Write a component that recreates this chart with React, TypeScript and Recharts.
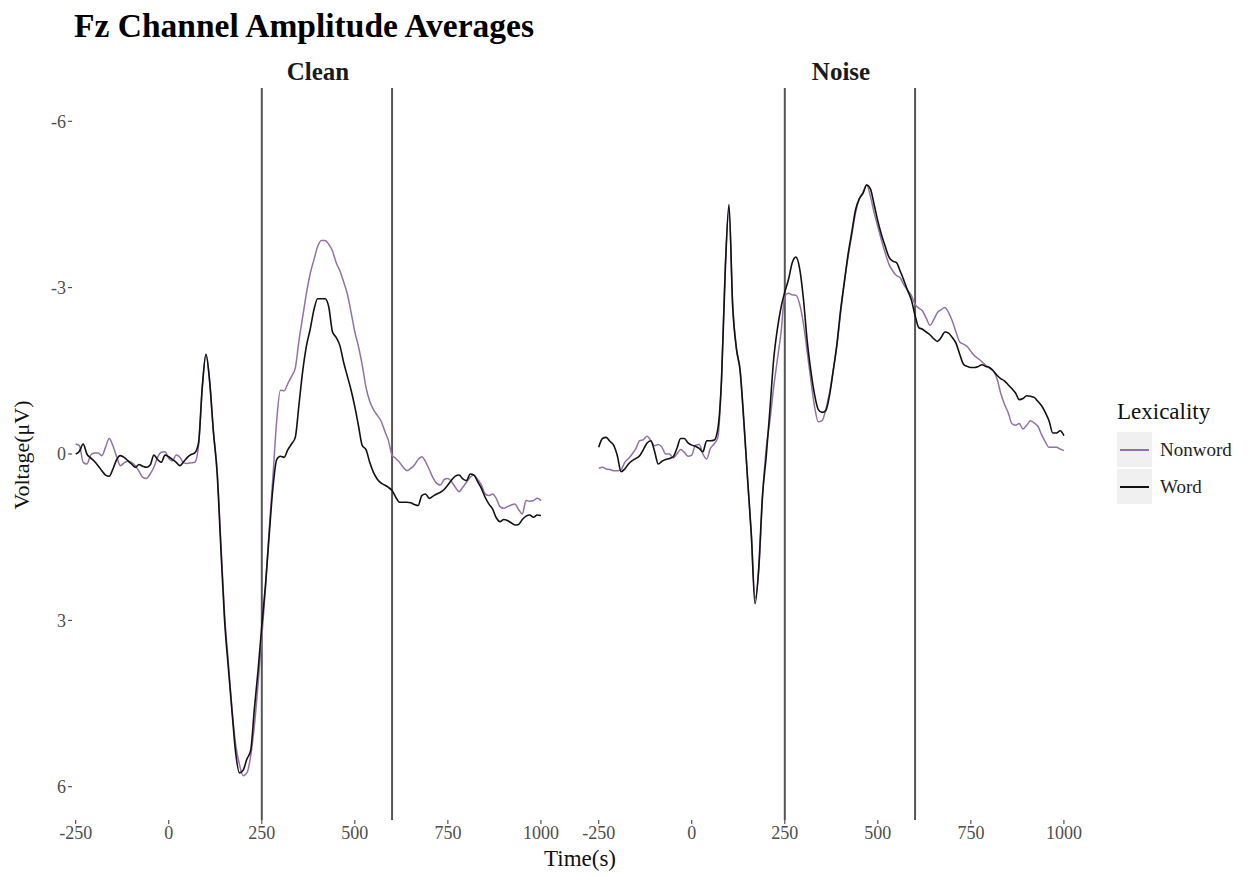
import React from 'react';
import { LineChart, Line, XAxis, YAxis, ReferenceLine } from 'recharts';

// sampling grid (ms), one sample every 10 ms
const times = Array.from({ length: 126 }, (_, i) => -250 + i * 10);

const xTicks = [-250, 0, 250, 500, 750, 1000];
const yTicks = [-6, -3, 0, 3, 6];
const windowLines = [250, 600];

const cleanNonword = [
    -0.18, -0.15, 0.15, 0.18, 0.02, -0.02, -0.02, 0.03, -0.12, -0.28,
    -0.15, 0.05, 0.21, 0.16, 0.13, 0.15, 0.21, 0.31, 0.42, 0.44,
    0.36, 0.24, 0.06, -0.03, -0.04,
    0.08, 0.12, 0.02, 0.06, 0.16, 0.17, 0.16, 0.15, -0.15, -1.2,
    -1.8, -1.3, -0.4, 0.3, 1.6, 2.9, 3.75, 4.6, 5.25, 5.6,
    5.8, 5.75, 5.45, 4.9, 4.15, 3.3, 2.4, 1.35, 0.4, -0.6,
    -1.15, -1.14, -1.27, -1.4, -1.55, -2.05, -2.48, -2.9, -3.25, -3.5,
    -3.74, -3.85, -3.85, -3.78, -3.66, -3.45, -3.3, -3.1, -2.88, -2.55,
    -2.2, -1.93, -1.6, -1.2, -0.95, -0.8, -0.7, -0.6, -0.42, -0.25,
    0.02, 0.08, 0.15, 0.24, 0.3, 0.26, 0.2, 0.1, 0.05, 0.14,
    0.28, 0.43, 0.53, 0.56, 0.46, 0.44, 0.5, 0.6, 0.68, 0.6,
    0.51, 0.42, 0.38, 0.46, 0.56, 0.72, 0.75, 0.72, 0.8, 0.95,
    0.98, 0.95, 0.92, 0.9, 1.0, 1.08, 0.84, 0.85, 0.84, 0.8,
    0.84,
];

const cleanWord = [
    0, -0.05, -0.18, 0.0, 0.07, 0.13, 0.21, 0.3, 0.38, 0.4,
    0.27, 0.1, 0.03, 0.06, 0.12, 0.18, 0.24, 0.19, 0.22, 0.24,
    0.2, 0.02, 0.1, 0.15, 0.02,
    0.05, 0.1, 0.15, 0.21, 0.14, 0.06, 0.01, -0.02, -0.2, -1.2,
    -1.8, -1.3, -0.4, 0.35, 1.7, 3.0, 3.85, 4.65, 5.4, 5.75,
    5.7, 5.5, 5.35, 4.6, 3.9, 3.1, 2.35, 1.45, 0.6, 0.1,
    0.04, 0.06, -0.08, -0.18, -0.3, -0.9, -1.5, -1.95, -2.25, -2.6,
    -2.8, -2.8, -2.8, -2.65, -2.2, -2.1, -1.95, -1.65, -1.4, -1.15,
    -0.85, -0.5, -0.15, -0.08, 0.15, 0.33, 0.45, 0.52, 0.56, 0.6,
    0.66, 0.78, 0.87, 0.87, 0.87, 0.88, 0.91, 0.93, 0.75, 0.72,
    0.8, 0.76, 0.72, 0.69, 0.64, 0.56, 0.47, 0.4, 0.38, 0.45,
    0.48, 0.36, 0.38, 0.5, 0.62, 0.78, 0.9, 0.99, 1.15, 1.22,
    1.18, 1.2, 1.24, 1.28, 1.27, 1.18, 1.12, 1.1, 1.14, 1.1,
    1.11,
];

const noiseNonword = [
    0.26, 0.24, 0.27, 0.28, 0.3, 0.3, 0.28, 0.15, 0.08, 0.0,
    -0.1, -0.24, -0.26, -0.32, -0.24, -0.15, -0.17, -0.12, 0.0, 0.0,
    0.07, 0.0, -0.08, -0.03, 0.04,
    0.02, -0.16, -0.17, 0.0, 0.09, -0.1, -0.18, -0.3, -1.35, -3.4,
    -4.4, -2.7, -1.9, -1.5, -0.55, 0.45, 1.45, 2.6, 2.1, 0.8,
    -0.1, -0.6, -1.2, -1.7, -2.2, -2.85, -2.9, -2.87, -2.86, -2.7,
    -2.35, -1.85, -1.33, -0.85, -0.58, -0.6, -0.8, -1.1, -1.5, -1.95,
    -2.55, -3.1, -3.55, -3.95, -4.35, -4.6, -4.72, -4.85, -4.65, -4.35,
    -4.1, -3.85, -3.62, -3.42, -3.3, -3.22, -3.18, -3.05, -2.95, -2.86,
    -2.7, -2.63, -2.58, -2.45, -2.32, -2.42, -2.55, -2.6, -2.64, -2.55,
    -2.4, -2.2, -2.02, -1.98, -1.94, -1.85, -1.77, -1.72, -1.66, -1.6,
    -1.55, -1.5, -1.36, -1.1, -0.9, -0.75, -0.55, -0.52, -0.55, -0.45,
    -0.52, -0.6, -0.56, -0.5, -0.35, -0.22, -0.12, -0.12, -0.12, -0.09,
    -0.06,
];

const noiseWord = [
    -0.12, -0.28, -0.3, -0.23, -0.16, 0.03, 0.32, 0.27, 0.18, 0.12,
    0.08, 0.03, -0.08, -0.2, -0.24, -0.05, 0.18, 0.13, 0.1, 0.08,
    0.05, -0.1, -0.28, -0.28, -0.2,
    -0.16, -0.14, -0.1, -0.04, -0.24, -0.24, -0.25, -0.45, -1.35, -3.3,
    -4.5, -2.65, -1.9, -1.5, -0.6, 0.45, 1.45, 2.7, 2.05, 0.75,
    0.05, -0.8, -1.7, -2.25, -2.65, -2.92, -3.15, -3.45, -3.55, -3.34,
    -2.8, -2.05, -1.5, -1.07, -0.8, -0.75, -0.78, -1.05, -1.5, -1.98,
    -2.6, -3.1, -3.6, -4.0, -4.4, -4.6, -4.7, -4.85, -4.78, -4.5,
    -4.2, -3.95, -3.74, -3.55, -3.48, -3.45, -3.3, -3.13, -2.95, -2.78,
    -2.5, -2.28, -2.25, -2.2, -2.15, -2.08, -2.03, -2.1, -2.2, -2.18,
    -2.1, -2.0, -1.8, -1.62, -1.58, -1.56, -1.56, -1.58, -1.61, -1.58,
    -1.56, -1.5, -1.42, -1.36, -1.32, -1.25, -1.18, -1.1, -0.98, -1.0,
    -1.05, -1.04, -1.02, -0.95, -0.87, -0.75, -0.6, -0.38, -0.38, -0.42,
    -0.33,
];

const FONT = '"Liberation Serif", "DejaVu Serif", serif';
const PURPLE = '#9370a6';
const BLACK = '#111111';
const X_DOMAIN = [-260, 1062];
const Y_DOMAIN = [-6.6, 6.6];

const cleanRows = times.map((t, i) => ({ t, nonword: cleanNonword[i], word: cleanWord[i] }));
const noiseRows = times.map((t, i) => ({ t, nonword: noiseNonword[i], word: noiseWord[i] }));

const tickStyle = { fill: '#4d4d4d', fontSize: 18, fontFamily: FONT };

const Panel = ({ rows, showY, left, width, marginLeft, marginRight }: any) => (
    <div style={{ position: 'absolute', left, top: 0 }}>
        <LineChart
            width={width}
            height={879}
            data={rows}
            margin={{ top: 88, right: marginRight, bottom: 29, left: marginLeft }}
        >
            <XAxis
                dataKey="t"
                type="number"
                domain={X_DOMAIN}
                ticks={xTicks}
                allowDataOverflow
                axisLine={false}
                tickLine={{ stroke: '#333' }}
                tickSize={4}
                tickMargin={2}
                height={30}
                tick={tickStyle}
            />
            <YAxis
                hide={!showY}
                reversed
                type="number"
                domain={Y_DOMAIN}
                ticks={yTicks}
                allowDataOverflow
                axisLine={false}
                tickLine={{ stroke: '#333' }}
                tickSize={4}
                tickMargin={2}
                width={50}
                tick={tickStyle}
            />
            {windowLines.map((x) => (
                <ReferenceLine key={x} x={x} stroke="#555" strokeWidth={2} />
            ))}
            <Line type="monotone" dataKey="nonword" stroke={PURPLE} strokeWidth={1.5} dot={false} isAnimationActive={false} />
            <Line type="monotone" dataKey="word" stroke={BLACK} strokeWidth={1.6} dot={false} isAnimationActive={false} />
        </LineChart>
    </div>
);

const LegendKey = ({ color, label, top }: { color: string; label: string; top: number }) => (
    <div style={{ position: 'absolute', left: 1117, top, height: 35, display: 'flex', alignItems: 'center' }}>
        <div style={{ width: 35, height: 35, background: '#f0f0f0', position: 'relative' }}>
            <div style={{ position: 'absolute', left: 3, right: 3, top: 17, height: 1.6, background: color }} />
        </div>
        <span style={{ marginLeft: 8, fontSize: 19, color: '#222', fontFamily: FONT }}>{label}</span>
    </div>
);

export default function App() {
    return (
        <div style={{ position: 'absolute', left: 0, top: 0, width: 1248, height: 879, background: '#fff', fontFamily: FONT }}>
            <div style={{ position: 'absolute', left: 74, top: 9, fontSize: 33.5, lineHeight: '34px', fontWeight: 'bold', color: '#000' }}>
                Fz Channel Amplitude Averages
            </div>
            <div style={{ position: 'absolute', left: 218, width: 200, top: 58, textAlign: 'center', fontSize: 25, fontWeight: 'bold', color: '#1a1a1a' }}>
                Clean
            </div>
            <div style={{ position: 'absolute', left: 741, width: 200, top: 58, textAlign: 'center', fontSize: 25, fontWeight: 'bold', color: '#1a1a1a' }}>
                Noise
            </div>

            <Panel rows={cleanRows} showY left={0} width={580} marginLeft={22} marginRight={16} />
            <Panel rows={noiseRows} showY={false} left={579} width={520} marginLeft={16} marginRight={12} />

            <div style={{ position: 'absolute', left: 22, top: 455, transform: 'translate(-50%, -50%) rotate(-90deg)', fontSize: 22, color: '#111', whiteSpace: 'nowrap' }}>
                Voltage(μV)
            </div>
            <div style={{ position: 'absolute', left: 480, width: 200, top: 846, textAlign: 'center', fontSize: 23, color: '#111' }}>
                Time(s)
            </div>

            <div style={{ position: 'absolute', left: 1117, top: 399, fontSize: 23, color: '#111' }}>Lexicality</div>
            <LegendKey color={PURPLE} label="Nonword" top={432} />
            <LegendKey color={BLACK} label="Word" top={469} />
        </div>
    );
}
